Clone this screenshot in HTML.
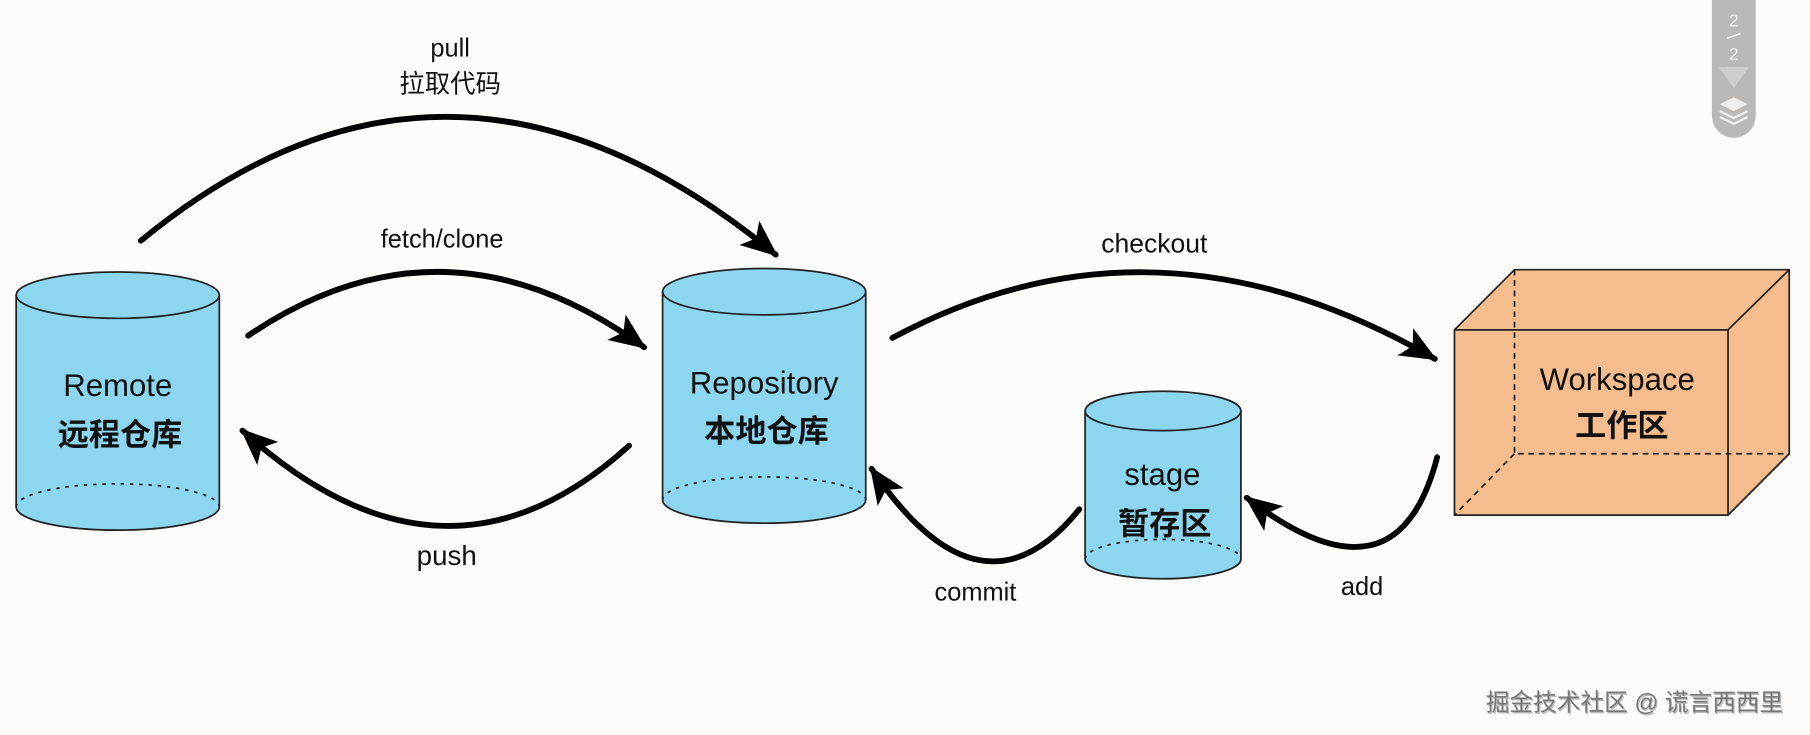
<!DOCTYPE html>
<html><head><meta charset="utf-8"><style>
html,body{margin:0;padding:0;background:#fdfcfa;}
svg{display:block;}
text{font-family:"Liberation Sans","Noto Sans CJK SC",sans-serif;fill:#111;}
</style></head><body>
<svg width="1810" height="735" viewBox="0 0 1568 635" preserveAspectRatio="none" xmlns="http://www.w3.org/2000/svg">
<defs>
<marker id="ah" markerUnits="userSpaceOnUse" markerWidth="32" markerHeight="32" viewBox="0 0 26 22" refX="24" refY="11" orient="auto">
<path d="M0,0 L26,11 L0,22 L6,11 Z" fill="#000"/>
</marker>
</defs>
<rect width="1568" height="635" fill="#fdfcfa"/>

<g stroke="#222" stroke-width="1.5">
<path d="M14,255 L14,438 A88,20 0 0 0 190,438 L190,255" fill="#8dd6f0"/>
<ellipse cx="102" cy="255" rx="88" ry="20" fill="#8dd6f0"/>
<path d="M14,438 A88,20 0 0 1 190,438" fill="none" stroke-dasharray="3,5"/>
</g>
<text x="102" y="342" font-size="27" text-anchor="middle">Remote</text>
<text x="104" y="385" font-size="27" font-weight="bold" text-anchor="middle">远程仓库</text>

<g stroke="#222" stroke-width="1.5">
<path d="M574,252 L574,432 A88,20 0 0 0 750,432 L750,252" fill="#8dd6f0"/>
<ellipse cx="662" cy="252" rx="88" ry="20" fill="#8dd6f0"/>
<path d="M574,432 A88,20 0 0 1 750,432" fill="none" stroke-dasharray="3,5"/>
</g>
<text x="662" y="340" font-size="27" text-anchor="middle">Repository</text>
<text x="664" y="382" font-size="27" font-weight="bold" text-anchor="middle">本地仓库</text>

<g stroke="#222" stroke-width="1.5">
<path d="M940,355 L940,483 A67.5,17 0 0 0 1075,483 L1075,355" fill="#8dd6f0"/>
<ellipse cx="1007.5" cy="355" rx="67.5" ry="17" fill="#8dd6f0"/>
<path d="M940,483 A67.5,17 0 0 1 1075,483" fill="none" stroke-dasharray="3,5"/>
</g>
<text x="1007" y="419" font-size="27" text-anchor="middle">stage</text>
<text x="1009" y="462" font-size="27" font-weight="bold" text-anchor="middle">暂存区</text>

<g stroke="#222" stroke-width="1.5" fill="#f5bd8d">
<path d="M1260,285 L1312,233 L1550,233 L1550,392 L1497,445 L1260,445 Z"/>
<path d="M1260,285 L1497,285 L1497,445" fill="none"/>
<path d="M1497,285 L1550,233" fill="none"/>
<path d="M1312,233 L1312,392 L1550,392 M1312,392 L1260,445" fill="none" stroke-dasharray="5,4"/>
</g>
<text x="1401" y="337" font-size="27" text-anchor="middle">Workspace</text>
<text x="1405" y="377" font-size="27" font-weight="bold" text-anchor="middle">工作区</text>

<g fill="none" stroke="#000" stroke-width="5" stroke-linecap="round" marker-end="url(#ah)">
<path d="M122,208 Q390,-12 672,220"/>
<path d="M215,290 Q385,175 558,300"/>
<path d="M545,385 Q385,530 210,372"/>
<path d="M773,292 Q1000,170 1243,310"/>
<path d="M935,440 Q850,545 755,405"/>
<path d="M1245,395 Q1210,530 1080,430"/>
</g>

<text x="390" y="49" font-size="22" text-anchor="middle">pull</text>
<text x="390" y="80" font-size="22" text-anchor="middle">拉取代码</text>
<text x="383" y="214" font-size="22" text-anchor="middle">fetch/clone</text>
<text x="387" y="488" font-size="24" text-anchor="middle">push</text>
<text x="1000" y="218" font-size="23" text-anchor="middle">checkout</text>
<text x="845" y="519" font-size="22" text-anchor="middle">commit</text>
<text x="1180" y="514" font-size="22" text-anchor="middle">add</text>

<text x="1416" y="614" font-size="20.5" text-anchor="middle" style="fill:#bbb" dx="1" dy="1">掘金技术社区 @ 谎言西西里</text>
<text x="1416" y="614" font-size="20.5" text-anchor="middle" style="fill:#777">掘金技术社区 @ 谎言西西里</text>

<path d="M1483,0 L1521,0 L1521,100 A19,19 0 0 1 1483,100 Z" fill="#bbb9b7"/>
<text x="1502" y="23" font-size="15" text-anchor="middle" style="fill:#eee">2</text>
<line x1="1496" y1="33" x2="1508" y2="29" stroke="#eee" stroke-width="1.5"/>
<text x="1502" y="52" font-size="15" text-anchor="middle" style="fill:#eee">2</text>
<path d="M1489,58 L1515,58 L1502,76 Z" fill="#d0cecc"/>
<path d="M1490,90 L1502,84 L1514,90 L1502,96 Z" fill="#eee"/>
<path d="M1490,96 L1502,102 L1514,96" fill="none" stroke="#eee" stroke-width="2"/>
<path d="M1490,101 L1502,107 L1514,101" fill="none" stroke="#eee" stroke-width="2"/>
</svg>
</body></html>
